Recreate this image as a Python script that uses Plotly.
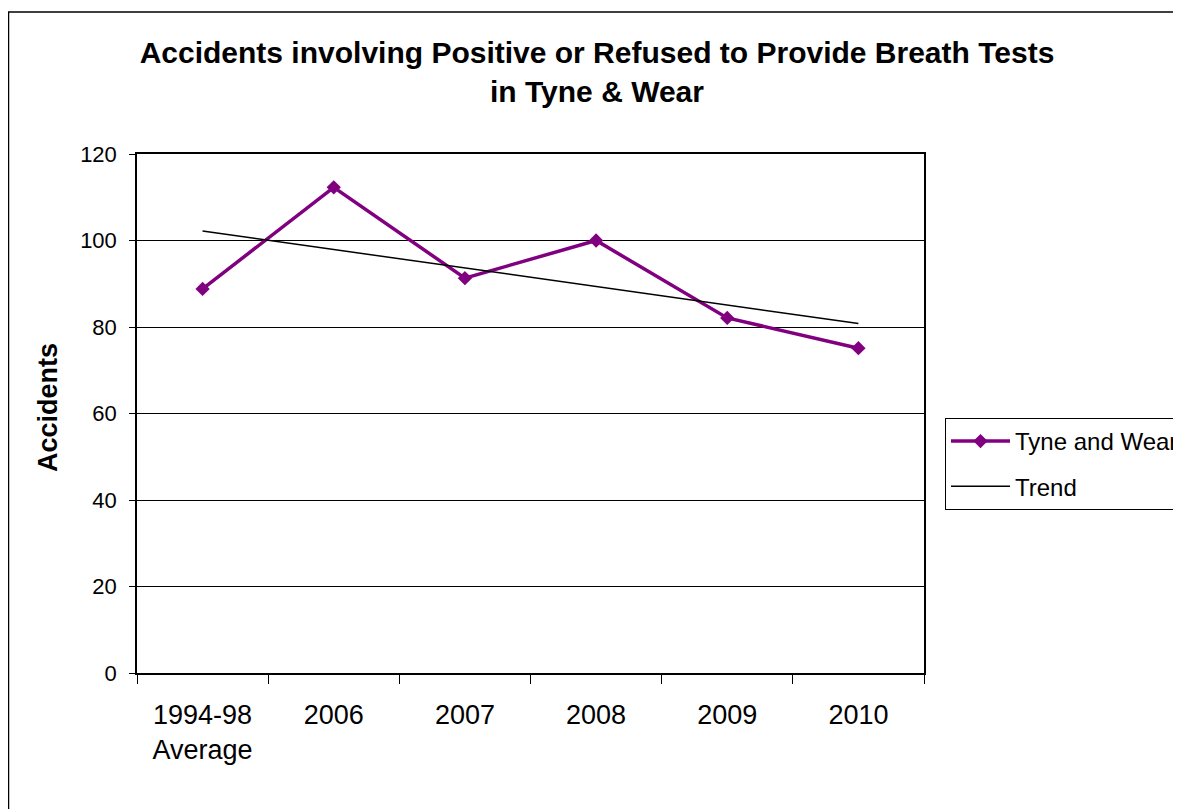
import plotly.graph_objects as go

categories = ["1994-98<br>Average", "2006", "2007", "2008", "2009", "2010"]
tyne_and_wear = [88.8, 112.3, 91.3, 100.0, 82.1, 75.1]
trend_categories = ["1994-98<br>Average", "2010"]
trend_values = [102.2, 80.8]
y_ticks = [0, 20, 40, 60, 80, 100, 120]

OFF = 8  # page body margin
W, H = 1181, 809 - OFF
L, R, T, B = 137 - OFF, 924 - OFF, 154 - OFF, 673 - OFF


def px_x(p):
    return (p - OFF - L) / (R - L)


def px_y(p):
    return (B - (p - OFF)) / (B - T)


FONT = "Liberation Sans, Arial, sans-serif"

fig = go.Figure()
fig.add_trace(go.Scatter(
    x=categories, y=tyne_and_wear, name="Tyne and Wear",
    mode="lines+markers", legendgroup="a",
    line=dict(color="#800080", width=3.5),
    marker=dict(symbol="diamond", size=11, color="#800080"),
))
fig.add_trace(go.Scatter(
    x=trend_categories, y=trend_values, name="Trend",
    mode="lines", legendgroup="b",
    line=dict(color="black", width=1.5),
))

fig.update_layout(
    width=W, height=H,
    margin=dict(l=L, r=W - R, t=T, b=H - B, autoexpand=False),
    paper_bgcolor="white", plot_bgcolor="white",
    font=dict(family=FONT, size=20, color="black"),
    showlegend=True,
    legend=dict(
        x=px_x(945), y=px_y(418), xanchor="left", yanchor="top",
        bordercolor="black", borderwidth=1, bgcolor="white",
        font=dict(size=24, family=FONT), tracegroupgap=11,
        itemwidth=59,
    ),
    xaxis=dict(
        type="category", categoryorder="array", categoryarray=categories,
        range=[-0.5, 5.5], showgrid=False, automargin=False,
        showline=True, linecolor="black", linewidth=1.5, mirror=True,
        ticks="outside", tickson="boundaries", ticklen=9, tickcolor="black",
        tickfont=dict(size=27), zeroline=False, ticklabelstandoff=17,
    ),
    yaxis=dict(
        range=[0, 120], tickvals=y_ticks, automargin=False,
        showgrid=True, gridcolor="black", gridwidth=1,
        showline=True, linecolor="black", linewidth=1.5, mirror=True,
        ticks="outside", ticklen=6, tickcolor="black",
        tickfont=dict(size=22), zeroline=False, ticklabelstandoff=8,
    ),
    title=dict(
        text="Accidents involving Positive or Refused to Provide Breath Tests<br>in Tyne & Wear",
        x=(597 - OFF) / W, xref="container", xanchor="center",
        y=1 - (62.5 - OFF) / H, yref="container", yanchor="middle",
        font=dict(size=30, family=FONT, color="black", weight="bold"),
    ),
    annotations=[dict(
        text="<b>Accidents</b>", textangle=-90,
        x=px_x(48), y=px_y(408), xref="paper", yref="paper",
        xanchor="center", yanchor="middle", showarrow=False,
        font=dict(size=27, family=FONT),
    )],
    shapes=[dict(
        type="rect", xref="paper", yref="paper",
        x0=px_x(8.5), y0=px_y(830), x1=px_x(1200), y1=px_y(12),
        line=dict(color="black", width=1.5), layer="below",
    )],
)

fig.write_html("out.html")
